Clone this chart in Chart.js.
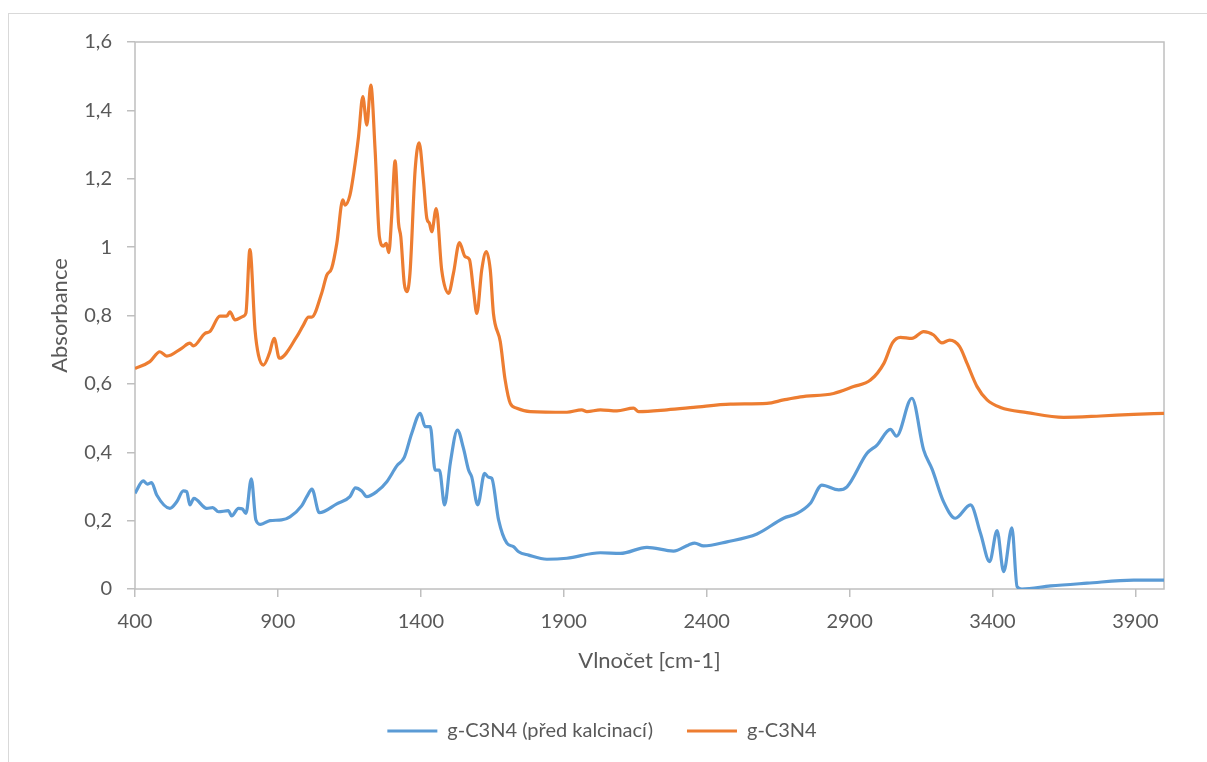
<!DOCTYPE html>
<html>
<head>
<meta charset="utf-8">
<script src="https://cdn.jsdelivr.net/npm/chart.js@4"></script>
<style>
  body { margin: 0; background: #fff; }
  #wrap { position: relative; width: 1207px; height: 762px; overflow: hidden; }
  #frame { position: absolute; left: 8px; top: 13px; width: 1400px; height: 900px; border: 1px solid #d9d9d9; }
  #myChart { position: absolute; left: 0; top: 0; }
</style>
</head>
<body>
<div id="wrap">
  <div id="frame"></div>
  <canvas id="myChart" width="1207" height="762"></canvas>
</div>
<script>
const xTicks = [400, 900, 1400, 1900, 2400, 2900, 3400, 3900];

const predX = [400,429,443,458,476,522,546,569,581,592,606,651,672,692,727,738,762,776,788,807,823,840,872,913,942,983,1001,1019,1045,1106,1152,1171,1193,1211,1246,1281,1316,1342,1368,1398,1415,1433,1450,1465,1483,1503,1528,1549,1567,1578,1599,1623,1637,1648,1672,1701,1724,1742,1777,1841,1911,2028,2098,2191,2284,2337,2358,2389,2471,2576,2669,2716,2763,2803,2862,2891,2961,2996,3043,3064,3118,3159,3189,3229,3270,3323,3358,3390,3416,3439,3468,3486,3503,3603,3731,3894,4000];
const predY = [0.280,0.316,0.307,0.311,0.275,0.236,0.255,0.287,0.285,0.246,0.265,0.236,0.238,0.226,0.229,0.214,0.236,0.234,0.221,0.322,0.202,0.189,0.200,0.202,0.211,0.243,0.270,0.292,0.223,0.249,0.270,0.296,0.287,0.270,0.285,0.314,0.360,0.385,0.455,0.514,0.475,0.475,0.348,0.348,0.246,0.368,0.465,0.412,0.348,0.328,0.246,0.338,0.327,0.324,0.202,0.134,0.124,0.109,0.099,0.087,0.090,0.106,0.104,0.122,0.111,0.129,0.134,0.126,0.138,0.161,0.207,0.221,0.251,0.304,0.290,0.299,0.397,0.421,0.467,0.447,0.558,0.407,0.350,0.255,0.207,0.246,0.163,0.080,0.171,0.051,0.179,0.007,0.000,0.009,0.017,0.026,0.026];

const gcnX = [400,452,487,511,563,592,604,645,662,697,721,732,750,779,788,802,820,832,849,870,887,905,966,989,1007,1018,1053,1071,1088,1106,1127,1135,1152,1166,1182,1197,1211,1225,1240,1255,1269,1279,1288,1298,1310,1322,1330,1342,1351,1362,1380,1394,1409,1421,1430,1438,1454,1473,1497,1514,1535,1555,1570,1584,1596,1613,1629,1643,1654,1678,1695,1713,1736,1783,1911,1963,1981,2028,2086,2144,2162,2261,2354,2483,2611,2669,2728,2844,2914,2973,3020,3050,3078,3118,3159,3194,3223,3250,3285,3311,3346,3381,3428,3521,3649,3778,3894,4000];
const gcnY = [0.645,0.665,0.694,0.681,0.704,0.719,0.711,0.748,0.753,0.798,0.798,0.811,0.787,0.798,0.807,0.993,0.757,0.684,0.655,0.689,0.733,0.675,0.738,0.772,0.795,0.795,0.865,0.918,0.938,1.011,1.138,1.123,1.152,1.221,1.323,1.440,1.357,1.474,1.284,1.030,1.003,1.011,0.984,1.089,1.252,1.070,1.030,0.894,0.870,0.923,1.225,1.305,1.196,1.084,1.070,1.045,1.113,0.933,0.865,0.923,1.013,0.972,0.964,0.875,0.806,0.933,0.987,0.933,0.806,0.723,0.611,0.543,0.529,0.519,0.517,0.524,0.519,0.524,0.521,0.529,0.519,0.524,0.531,0.541,0.543,0.553,0.562,0.572,0.592,0.611,0.660,0.720,0.736,0.733,0.753,0.743,0.720,0.728,0.709,0.660,0.592,0.553,0.531,0.516,0.502,0.506,0.511,0.514];

const toPoints = (xs, ys) => xs.map((x, i) => ({ x: x, y: ys[i] }));

const txt = '#595959';
const axisGray = '#bfbfbf';
const fam = 'Lato, "Open Sans", sans-serif';

// ramecek kolem plochy grafu
const plotBox = {
  id: 'plotBox',
  beforeDatasetsDraw(chart) {
    const a = chart.chartArea;
    const c = chart.ctx;
    c.save();
    c.strokeStyle = axisGray;
    c.lineWidth = 1.5;
    c.strokeRect(a.left, a.top, a.right - a.left, a.bottom - a.top);
    c.restore();
  }
};

const ctx = document.getElementById('myChart');

new Chart(ctx, {
  type: 'scatter',
  data: {
    datasets: [
      {
        label: 'g-C3N4 (před kalcinací)',
        data: toPoints(predX, predY),
        borderColor: '#5b9bd5',
        backgroundColor: '#5b9bd5',
        borderWidth: 3.2,
        showLine: true,
        pointRadius: 0,
        cubicInterpolationMode: 'monotone'
      },
      {
        label: 'g-C3N4',
        data: toPoints(gcnX, gcnY),
        borderColor: '#ed7d31',
        backgroundColor: '#ed7d31',
        borderWidth: 3.2,
        showLine: true,
        pointRadius: 0,
        cubicInterpolationMode: 'monotone'
      }
    ]
  },
  options: {
    responsive: false,
    animation: false,
    layout: { padding: { top: 42, right: 43, left: 40, bottom: 11 } },
    plugins: {
      tooltip: { enabled: false },
      legend: {
        position: 'bottom',
        labels: {
          usePointStyle: true,
          pointStyle: 'line',
          pointStyleWidth: 50,
          padding: 34,
          color: txt,
          font: { family: fam, size: 20 }
        }
      }
    },
    scales: {
      x: {
        type: 'linear',
        min: 400,
        max: 4000,
        afterBuildTicks: (scale) => { scale.ticks = xTicks.map(v => ({ value: v })); },
        afterFit: (scale) => { scale.height = 98; },
        border: { display: false },
        grid: { drawOnChartArea: false, drawTicks: true, tickLength: 8, color: axisGray, lineWidth: 1.5 },
        ticks: { color: txt, padding: 13, maxRotation: 0, font: { family: fam, size: 20 }, callback: (v) => String(v) },
        title: { display: true, text: 'Vlnočet [cm-1]', color: txt, padding: { top: 0, bottom: 13 }, font: { family: fam, size: 22 } }
      },
      y: {
        min: 0,
        max: 1.6,
        afterFit: (scale) => { scale.width = 95; },
        border: { display: false },
        grid: { drawOnChartArea: false, drawTicks: true, tickLength: 8, color: axisGray, lineWidth: 1.5 },
        ticks: {
          stepSize: 0.2,
          padding: 15,
          color: txt,
          font: { family: fam, size: 20 },
          callback: (v) => String(Number(v.toFixed(1))).replace('.', ',')
        },
        title: { display: true, text: 'Absorbance', color: txt, padding: { top: 7, bottom: 0 }, font: { family: fam, size: 22 } }
      }
    }
  },
  plugins: [plotBox]
});
</script>
</body>
</html>
